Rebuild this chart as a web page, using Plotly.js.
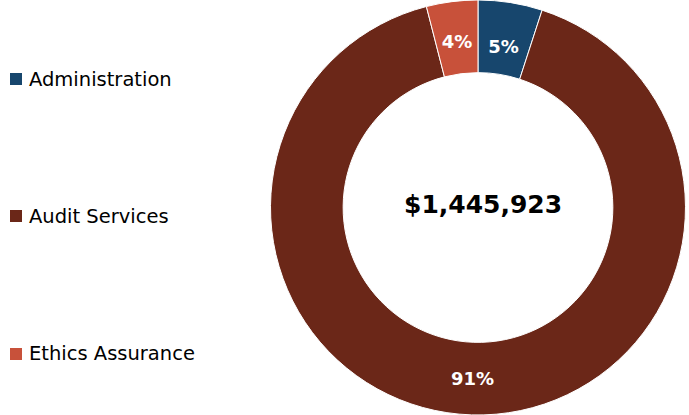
<!DOCTYPE html>
<html>
<head>
<meta charset="utf-8">
<script src="https://cdn.plot.ly/plotly-3.0.1.min.js"></script>
<style>html,body{margin:0;padding:0;background:#fff;}#chart{width:689px;height:415px;}</style>
</head>
<body>
<div id="chart"></div>
<script>
const categories = ["Administration", "Audit Services", "Ethics Assurance"];
const shares = [5, 91, 4];
const colors = ["#17466D", "#6B2718", "#C8513A"];
const totalLabel = "$1,445,923";

const FONT = "DejaVu Sans, Arial, sans-serif";
const PCT = "%{percent:.0%}";
// large slices labelled on the ring itself, small slices on a transparent label layer
const isSmall = shares.map(v => v < 10);

const ring = {
  type: "pie",
  labels: categories,
  values: shares,
  sort: false,
  direction: "clockwise",
  rotation: 0,
  hole: 0.65,
  marker: { colors: colors, line: { color: "#ffffff", width: 1 } },
  texttemplate: isSmall.map(s => s ? "" : PCT),
  textposition: "inside",
  insidetextorientation: "horizontal",
  textfont: { family: FONT, size: 18, color: "#ffffff", weight: "bold" },
  domain: { x: [0.3926, 0.9949], y: [0, 1] },
  showlegend: false,
  hoverinfo: "label+percent"
};

// transparent label layer (same centre, smaller radius) so small-slice labels sit mid-ring
const cx = 478, cy = 207.5, r2 = 188, W = 689, H = 415;
const labelLayer = {
  type: "pie",
  labels: categories,
  values: shares,
  sort: false,
  direction: "clockwise",
  rotation: 0,
  marker: { colors: categories.map(() => "rgba(0,0,0,0)"), line: { width: 0 } },
  texttemplate: isSmall.map(s => s ? PCT : ""),
  textposition: "inside",
  insidetextorientation: "horizontal",
  textfont: { family: FONT, size: 18, color: "#ffffff", weight: "bold" },
  domain: { x: [(cx - r2) / W, (cx + r2) / W], y: [(H - cy - r2) / H, (H - cy + r2) / H] },
  showlegend: false,
  hoverinfo: "skip"
};

// legend built from categories
const legendY = [0.8096, 0.4795, 0.1470];
const shapes = categories.map((c, i) => ({
  type: "rect", xref: "paper", yref: "paper",
  x0: 10 / W, x1: 22 / W,
  y0: legendY[i] - 6 / H, y1: legendY[i] + 6 / H,
  fillcolor: colors[i], line: { width: 0 }
}));
const annotations = categories.map((c, i) => ({
  text: c, xref: "paper", yref: "paper",
  x: 27 / W, y: legendY[i], xanchor: "left", yanchor: "middle",
  showarrow: false, font: { family: FONT, size: 19.5, color: "#000000" }
}));
annotations.push({
  text: "<b>" + totalLabel + "</b>", xref: "paper", yref: "paper",
  x: 483 / W, y: 1 - 205 / H, xanchor: "center", yanchor: "middle",
  showarrow: false, font: { family: FONT, size: 25, color: "#000000" }
});

const layout = {
  width: W, height: H,
  margin: { l: 0, r: 0, t: 0, b: 0 },
  paper_bgcolor: "#ffffff",
  plot_bgcolor: "#ffffff",
  showlegend: false,
  shapes: shapes,
  annotations: annotations
};

Plotly.newPlot("chart", [ring, labelLayer], layout, { displayModeBar: false, staticPlot: true });
</script>
</body>
</html>
